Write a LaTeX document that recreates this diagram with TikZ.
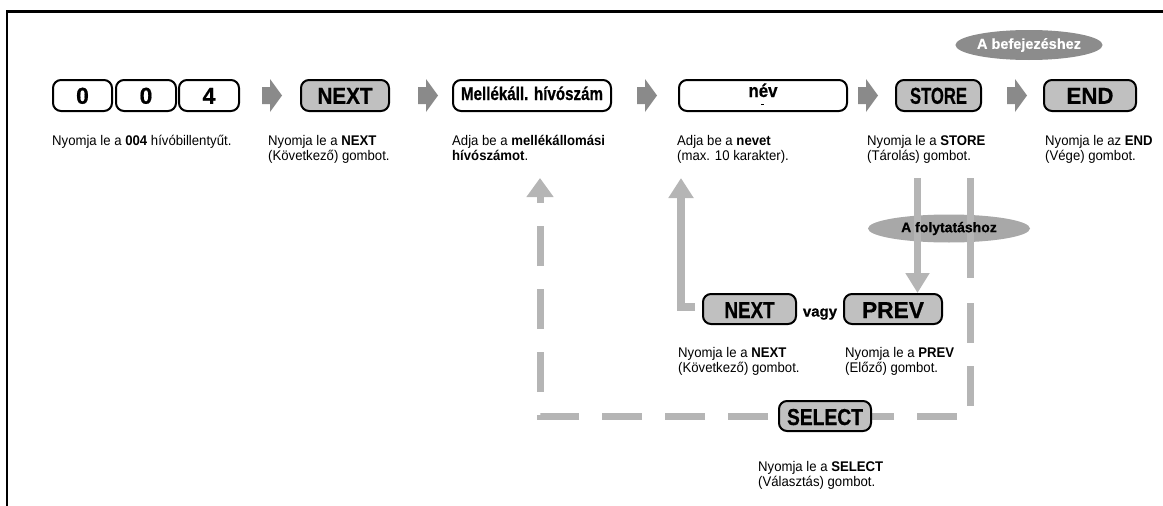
\documentclass[tikz,border=0pt]{standalone}
\usepackage{fontspec}
\setmainfont{Liberation Sans}
\newfontfamily\capfont[FakeStretch=0.94]{Liberation Sans}
\newfontfamily\btnfont[FakeBold=0.6]{Liberation Sans Bold}
\usetikzlibrary{shapes.geometric,arrows.meta}
\definecolor{lgray}{RGB}{181,181,181}
\definecolor{bgray}{RGB}{192,192,192}
\definecolor{agray}{RGB}{138,138,138}
\definecolor{eone}{RGB}{140,140,140}
\definecolor{etwo}{RGB}{168,168,168}
\newcommand\capt[2]{\begin{tabular}[t]{@{}l@{}}#1\\#2\end{tabular}}
\newcommand\fitw[2]{\resizebox{#1}{\height}{#2}}
\pgfdeclarelayer{bk}
\pgfdeclarelayer{ln}
\pgfsetlayers{bk,ln,main}
\begin{document}
\begin{tikzpicture}[x=1pt,y=-1pt,
  wbox/.style={draw=black, line width=2pt, rounded corners=8pt, fill=white,
    minimum height=31pt, inner sep=0pt, text height=16.5pt, text depth=0pt,
    font=\btnfont\fontsize{23}{25}\selectfont},
  gbtn/.style={wbox, fill=bgray},
  captxt/.style={anchor=base west, inner sep=0pt, font=\capfont\fontsize{14}{15.5}\selectfont},
  blk/.style={fill=agray},
  gline/.style={draw=lgray, line width=7pt},
]
\useasboundingbox (0,0) rectangle (1163,506);
% frame
\draw[line width=2.5pt] (7.2,506) -- (7.2,11.3) -- (1163,11.3);

% top row
\node[wbox, minimum width=59pt] (k1) at (82.5,95.5) {0};
\node[wbox, minimum width=60pt] (k2) at (146,95.5) {0};
\node[wbox, minimum width=60pt] (k3) at (209,95.5) {4};
\node[gbtn, minimum width=88pt] (next1) at (345,95.5) {\fitw{55pt}{NEXT}};
\node[wbox, minimum width=158pt, text height=14pt, text depth=5pt,
  font=\btnfont\fontsize{18.5}{20}\selectfont] (mell) at (532,95.5) {\fitw{142pt}{Mellékáll. hívószám}};
\node[wbox, minimum width=168pt, text height=8pt, text depth=5pt,
  font=\btnfont\fontsize{18.5}{20}\selectfont] (nev) at (763,95.5) {\fitw{29pt}{név}};
\fill (760.5,103.5) rectangle (763.5,105);
\node[gbtn, minimum width=85pt] (store) at (938.5,95.5) {\fitw{57pt}{STORE}};
\node[gbtn, minimum width=92pt] (end) at (1090,95.5) {\fitw{47pt}{END}};

% block arrows
\foreach \ax in {262,418,637,858,1007}{
  \fill[blk] (\ax,87) -- (\ax+8,87) -- (\ax+8,79) -- (\ax+20,95.5) -- (\ax+8,112) -- (\ax+8,104) -- (\ax,104) -- cycle;
}

% ellipse end
\node[ellipse, fill=eone, minimum width=128pt, minimum height=30pt, inner sep=0pt,
  text=white, font=\btnfont\fontsize{14.5}{16}\selectfont] (fin) at (1029,45) {A befejezéshez};

% captions top
\node[captxt] (c1) at (52,145) {Nyomja le a \textbf{004} hívóbillentyűt.};
\node[captxt] (c2) at (268,145) {\capt{Nyomja le a \textbf{NEXT}}{(Következő) gombot.}};
\node[captxt] (c3) at (452,145) {\capt{Adja be a \textbf{mellékállomási}}{\textbf{hívószámot}.}};
\node[captxt] (c4) at (677,145) {\capt{Adja be a \textbf{nevet}}{(max. 10 karakter).}};
\node[captxt] (c5) at (867,145) {\capt{Nyomja le a \textbf{STORE}}{(Tárolás) gombot.}};
\node[captxt] (c6) at (1045,145) {\capt{Nyomja le az \textbf{END}}{(Vége) gombot.}};

% lower buttons
\node[gbtn, minimum width=93pt, minimum height=30pt, text height=18pt] (next2) at (749.5,309) {\fitw{50pt}{NEXT}};
\node[gbtn, minimum width=98pt, minimum height=30pt, text height=18pt] (prev) at (893,309) {\fitw{62pt}{PREV}};
\node[anchor=base, inner sep=0pt, font=\btnfont\fontsize{15}{16}\selectfont] (vagy) at (820,316.5) {vagy};
\node[gbtn, minimum width=92pt, minimum height=30pt, text height=18pt] (select) at (825,416) {\fitw{76pt}{SELECT}};

\node[captxt] (c7) at (678,357) {\capt{Nyomja le a \textbf{NEXT}}{(Következő) gombot.}};
\node[captxt] (c8) at (845,357) {\capt{Nyomja le a \textbf{PREV}}{(Előző) gombot.}};
\node[captxt] (c9) at (758,471) {\capt{Nyomja le a \textbf{SELECT}}{(Választás) gombot.}};

% ellipse continue (fill on back layer)
\begin{pgfonlayer}{bk}
\node[ellipse, fill=etwo, minimum width=162pt, minimum height=28pt, inner sep=0pt] (cont) at (949,228.5) {};
\end{pgfonlayer}
\node[font=\btnfont\fontsize{14}{16}\selectfont, inner sep=0pt] (conttxt) at (cont.center) {A folytatáshoz};

% connectors
\coordinate (s1) at (917.5,178);
\coordinate (s2) at (970,178);
\coordinate (s2b) at (970,278);
\coordinate (s3) at (970,303);
\coordinate (nevup) at (681,178);
\coordinate (mellup) at (540,178);
\coordinate (lstart) at ([xshift=-7pt,yshift=2.5pt]next2.west);
\begin{pgfonlayer}{ln}
\draw[gline, -{Triangle[length=20pt,width=23pt]}] (s1) -- (s1 |- prev.north);
\draw[gline] (s2) -- (s2b);
\draw[gline, dash pattern=on 40pt off 23pt, -{Triangle[length=19pt,width=26pt]}]
  (s3) -- (s3 |- select.center) -- (mellup |- select.center) -- (mellup);
\draw[gline, line width=8pt, -{Triangle[length=20pt,width=24pt]}]
  (lstart) -- (nevup |- lstart) -- (nevup);
\end{pgfonlayer}
\end{tikzpicture}
\end{document}
